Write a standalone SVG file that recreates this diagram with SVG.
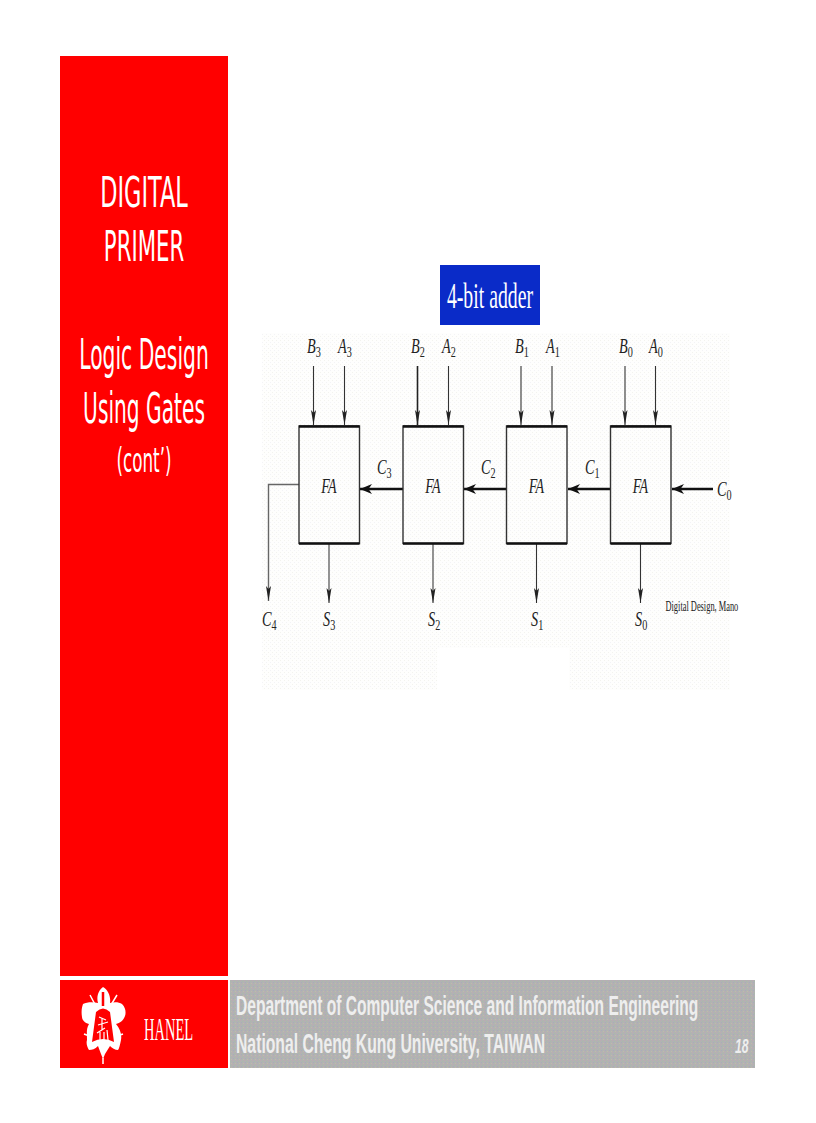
<svg xmlns="http://www.w3.org/2000/svg" width="816" height="1123" viewBox="0 0 816 1123">
<style>
.side{font-family:"DejaVu Sans","Liberation Sans",sans-serif;fill:#fff;text-anchor:middle}
.lab{font-family:"Liberation Serif",serif;font-style:italic;font-size:21px;fill:#222}
.sub{font-size:15px;font-style:normal}
.fa{font-family:"Liberation Serif",serif;font-style:italic;font-size:20px;fill:#222;text-anchor:middle}
.box{fill:none;stroke:#333;stroke-width:1.4}
.top{stroke:#111;stroke-width:2.4}
.w{fill:none;stroke:#333;stroke-width:1.1}
.g{fill:none;stroke:#666;stroke-width:1.4}
.c{fill:none;stroke:#111;stroke-width:2.4}
.foot{font-family:"Liberation Sans",sans-serif;font-weight:bold;font-size:27px;fill:#eee}
</style>
<defs>
<marker id="a" markerUnits="userSpaceOnUse" markerWidth="16" markerHeight="8" refX="15" refY="4" orient="auto"><path d="M0 1.500L15 4L0 6.500L3 4Z" fill="#222"/></marker>
<marker id="b" markerUnits="userSpaceOnUse" markerWidth="14" markerHeight="12" refX="12" refY="6" orient="auto"><path d="M0 1L12 6L0 11L3.500 6Z" fill="#111"/></marker>
<pattern id="dg" width="4" height="4" patternUnits="userSpaceOnUse"><rect width="4" height="4" fill="#b2b2b2"/><rect width="1" height="1" fill="#bcaab4"/><rect x="2" y="1" width="1" height="1" fill="#a8bcaa"/><rect x="1" y="2" width="1" height="1" fill="#aaaabc"/><rect x="3" y="3" width="1" height="1" fill="#bebca8"/></pattern>
<pattern id="dl" width="4" height="4" patternUnits="userSpaceOnUse"><rect width="4" height="4" fill="#fefefd"/><rect width="1" height="1" fill="#f3f3ee"/><rect x="2" y="2" width="1" height="1" fill="#f3f3f6"/></pattern>
</defs>
<rect width="816" height="1123" fill="#fff"/>
<rect x="262" y="333" width="468" height="357" fill="url(#dl)"/>
<rect x="437" y="648" width="132" height="42" fill="#fff"/>
<g id="sidebar">
<rect x="60" y="56" width="168" height="920" fill="#f00"/>
<text class="side" transform="translate(144 207) scale(.6 1)" font-size="42" textLength="146" lengthAdjust="spacingAndGlyphs">DIGITAL</text>
<text class="side" transform="translate(144 261) scale(.6 1)" font-size="42" textLength="134" lengthAdjust="spacingAndGlyphs">PRIMER</text>
<text class="side" transform="translate(144 369) scale(.6 1)" font-size="42" textLength="216" lengthAdjust="spacingAndGlyphs">Logic Design</text>
<text class="side" transform="translate(144 423) scale(.6 1)" font-size="42" textLength="203" lengthAdjust="spacingAndGlyphs">Using Gates</text>
<text class="side" transform="translate(144 472) scale(.6 1)" font-size="33" textLength="92" lengthAdjust="spacingAndGlyphs">(cont’)</text>
</g>
<g id="title">
<rect x="440" y="265" width="100" height="60" fill="#0a2bc8"/>
<text transform="translate(490 308) scale(.75 1)" font-family="Liberation Serif,serif" font-size="36" fill="#fff" text-anchor="middle" textLength="115" lengthAdjust="spacingAndGlyphs">4-bit adder</text>
</g>
<g id="connectors">
<path class="w" marker-end="url(#a)" d="M313.500 366V425"/>
<path class="w" marker-end="url(#a)" d="M344.500 366V425"/>
<path class="g" style="stroke:#222;stroke-width:1.6" marker-end="url(#a)" d="M417.500 366V425"/>
<path class="w" marker-end="url(#a)" d="M448.500 366V425"/>
<path class="w" marker-end="url(#a)" d="M521 366V425"/>
<path class="w" marker-end="url(#a)" d="M552 366V425"/>
<path class="w" marker-end="url(#a)" d="M625 366V425"/>
<path class="w" marker-end="url(#a)" d="M655.500 366V425"/>
<path class="g" marker-end="url(#a)" d="M299 484.500H268.500V601"/>
<path class="g" marker-end="url(#a)" d="M329 544V603"/>
<path class="g" marker-end="url(#a)" d="M433 544V603"/>
<path class="w" marker-end="url(#a)" d="M536.500 544V603"/>
<path class="w" marker-end="url(#a)" d="M640.500 544V603"/>
<path class="c" marker-end="url(#b)" d="M403 489H360"/>
<path class="c" marker-end="url(#b)" d="M507 489H464"/>
<path class="c" marker-end="url(#b)" d="M611 489H568"/>
<path class="c" marker-end="url(#b)" d="M713 489H672"/>
</g>
<g id="fa3"><rect class="box" x="299" y="426" width="60.500" height="117.500"/><path class="top" d="M299 426.500H359.500M299 543.500H359.500"/><text class="fa" transform="translate(329 493) scale(.7 1)">FA</text></g>
<g id="fa2"><rect class="box" x="403" y="426" width="60.500" height="117.500"/><path class="top" d="M403 426.500H463.500M403 543.500H463.500"/><text class="fa" transform="translate(433 493) scale(.7 1)">FA</text></g>
<g id="fa1"><rect class="box" x="506.500" y="426" width="60.500" height="117.500"/><path class="top" d="M506.500 426.500H567M506.500 543.500H567"/><text class="fa" transform="translate(536.500 493) scale(.7 1)">FA</text></g>
<g id="fa0"><rect class="box" x="610.500" y="426" width="60.500" height="117.500"/><path class="top" d="M610.500 426.500H671M610.500 543.500H671"/><text class="fa" transform="translate(640.500 493) scale(.7 1)">FA</text></g>
<g id="labels">
<text class="lab" transform="translate(307 353) scale(.68 1)">B<tspan class="sub" dy="4">3</tspan></text>
<text class="lab" transform="translate(338 353) scale(.68 1)">A<tspan class="sub" dy="4">3</tspan></text>
<text class="lab" transform="translate(411 353) scale(.68 1)">B<tspan class="sub" dy="4">2</tspan></text>
<text class="lab" transform="translate(442 353) scale(.68 1)">A<tspan class="sub" dy="4">2</tspan></text>
<text class="lab" transform="translate(515 353) scale(.68 1)">B<tspan class="sub" dy="4">1</tspan></text>
<text class="lab" transform="translate(546 353) scale(.68 1)">A<tspan class="sub" dy="4">1</tspan></text>
<text class="lab" transform="translate(619 353) scale(.68 1)">B<tspan class="sub" dy="4">0</tspan></text>
<text class="lab" transform="translate(649 353) scale(.68 1)">A<tspan class="sub" dy="4">0</tspan></text>
<text class="lab" transform="translate(377 474) scale(.68 1)">C<tspan class="sub" dy="4">3</tspan></text>
<text class="lab" transform="translate(481 474) scale(.68 1)">C<tspan class="sub" dy="4">2</tspan></text>
<text class="lab" transform="translate(585 474) scale(.68 1)">C<tspan class="sub" dy="4">1</tspan></text>
<text class="lab" transform="translate(717 496) scale(.68 1)">C<tspan class="sub" dy="4">0</tspan></text>
<text class="lab" transform="translate(262 626) scale(.68 1)">C<tspan class="sub" dy="4">4</tspan></text>
<text class="lab" transform="translate(323 626) scale(.68 1)">S<tspan class="sub" dy="4">3</tspan></text>
<text class="lab" transform="translate(428 626) scale(.68 1)">S<tspan class="sub" dy="4">2</tspan></text>
<text class="lab" transform="translate(531 626) scale(.68 1)">S<tspan class="sub" dy="4">1</tspan></text>
<text class="lab" transform="translate(635 626) scale(.68 1)">S<tspan class="sub" dy="4">0</tspan></text>
<text transform="translate(665.500 611) scale(.7 1)" font-family="Liberation Serif,serif" font-size="15" fill="#222" textLength="104" lengthAdjust="spacingAndGlyphs">Digital Design, Mano</text>
</g>
<g id="logo">
<rect x="60" y="980" width="168" height="88" fill="#f00"/>
<path d="M103 987C108 990 111 996 110 1003C114 1002 119 1002 122 1004C126 1008 126 1013 125 1016C123 1021 120 1023 116 1024C120 1029 122 1034 121 1040C120 1045 119 1049 118 1050C115 1050 112 1048 110 1046L105 1054L103 1059L101 1054L98 1046C95 1049 92 1050 89 1050C87 1047 86 1043 87 1040C87 1034 86 1029 89 1024C85 1023 82 1020 82 1017C81 1011 82 1007 83 1004C87 1002 93 1002 98 1003C96 996 99 990 103 987Z" fill="#fff"/>
<path d="M90 995L98 1010M117 995L108 1010M84 1034L92 1037M123 1034L114 1037M103 1058V1064" stroke="#fff" stroke-width="1.500" fill="none"/>
<path d="M103 992V1006" stroke="#f00" stroke-width="2.500"/>
<path d="M96 1012Q103 1005 110 1012L114 1042Q103 1036 92 1042Z" fill="#f00"/>
<path d="M99 1017L106 1020M98 1025L108 1022M102 1018V1030M97 1033L105 1028M100 1040L100 1032M104 1040V1032M108 1040L107 1030" stroke="#fff" stroke-width="1.200" fill="none"/>
<text transform="translate(144 1040) scale(.6 1)" font-family="Liberation Serif,serif" font-size="32" fill="#fff" textLength="82" lengthAdjust="spacingAndGlyphs">HANEL</text>
</g>
<g id="footer">
<rect x="230" y="980" width="525" height="88" fill="url(#dg)"/>
<text class="foot" transform="translate(236 1015) scale(.58 1)" textLength="797" lengthAdjust="spacingAndGlyphs">Department of Computer Science and Information Engineering</text>
<text class="foot" transform="translate(236 1053) scale(.58 1)" textLength="533" lengthAdjust="spacingAndGlyphs">National Cheng Kung University, TAIWAN</text>
<text transform="translate(735 1053) scale(.58 1)" font-family="Liberation Sans,sans-serif" font-weight="bold" font-style="italic" font-size="21" fill="#eee">18</text>
</g>
</svg>
